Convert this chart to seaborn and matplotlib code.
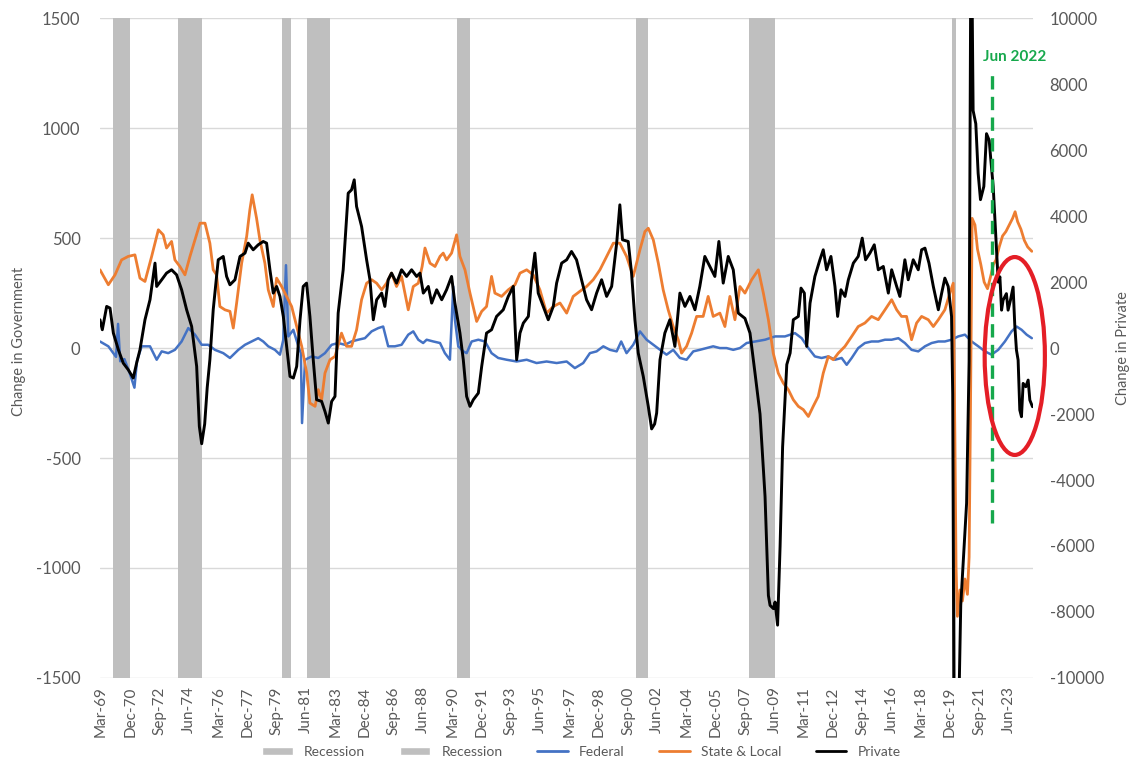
import matplotlib
matplotlib.use('Agg')
import matplotlib.pyplot as plt
from matplotlib.patches import Ellipse, Patch
from matplotlib.lines import Line2D
import pandas as pd
import seaborn as sns

sns.set_style('white')
plt.rcParams['font.family'] = ['Lato', 'DejaVu Sans']
plt.rcParams['axes.unicode_minus'] = False

# NBER recessions, first and last month
recession_start = ['1969-12', '1973-11', '1980-01', '1981-07', '1990-07', '2001-03', '2007-12', '2020-02']
recession_end = ['1970-11', '1975-03', '1980-07', '1982-11', '1991-03', '2001-11', '2009-06', '2020-04']

tick_labels = ['Mar-69', 'Dec-70', 'Sep-72', 'Jun-74', 'Mar-76', 'Dec-77', 'Sep-79', 'Jun-81',
               'Mar-83', 'Dec-84', 'Sep-86', 'Jun-88', 'Mar-90', 'Dec-91', 'Sep-93', 'Jun-95',
               'Mar-97', 'Dec-98', 'Sep-00', 'Jun-02', 'Mar-04', 'Dec-05', 'Sep-07', 'Jun-09',
               'Mar-11', 'Dec-12', 'Sep-14', 'Jun-16', 'Mar-18', 'Dec-19', 'Sep-21', 'Jun-23']

# State & Local (left axis)
sl_year = [1969.14, 1969.64, 1970.04, 1970.43, 1970.83, 1971.23, 1971.53, 1971.83, 1972.23, 1972.63,
           1972.92, 1973.12, 1973.42, 1973.62, 1973.92, 1974.22, 1974.52, 1974.82, 1975.12, 1975.42,
           1975.71, 1975.91, 1976.11, 1976.31, 1976.61, 1976.91, 1977.11, 1977.31, 1977.61, 1977.91,
           1978.10, 1978.24, 1978.50, 1978.70, 1979.00, 1979.20, 1979.50, 1979.70, 1980.00, 1980.30,
           1980.60, 1980.90, 1981.20, 1981.50, 1981.69, 1982.00, 1982.19, 1982.39, 1982.59, 1982.89,
           1983.19, 1983.58, 1983.88, 1984.18, 1984.48, 1984.78, 1985.08, 1985.38, 1985.68, 1985.98,
           1986.27, 1986.57, 1986.87, 1987.17, 1987.57, 1987.87, 1988.17, 1988.40, 1988.57, 1988.87,
           1989.17, 1989.47, 1989.66, 1989.86, 1990.16, 1990.46, 1990.66, 1990.96, 1991.26, 1991.66,
           1991.96, 1992.25, 1992.55, 1992.75, 1993.15, 1993.55, 1993.95, 1994.25, 1994.65, 1995.04,
           1995.44, 1995.84, 1996.24, 1996.64, 1997.04, 1997.43, 1997.83, 1998.23, 1998.63, 1999.03,
           1999.43, 1999.83, 2000.22, 2000.62, 2001.02, 2001.42, 2001.72, 2001.92, 2002.22, 2002.52,
           2002.81, 2003.11, 2003.41, 2003.71, 2003.91, 2004.21, 2004.51, 2004.81, 2005.20, 2005.50,
           2005.80, 2006.20, 2006.50, 2006.80, 2007.10, 2007.40, 2007.70, 2008.10, 2008.50, 2008.80,
           2009.10, 2009.39, 2009.69, 2009.99, 2010.29, 2010.59, 2010.89, 2011.19, 2011.49, 2011.78,
           2012.08, 2012.38, 2012.68, 2012.98, 2013.28, 2013.68, 2014.08, 2014.47, 2014.87, 2015.27,
           2015.67, 2016.07, 2016.47, 2016.77, 2017.06, 2017.36, 2017.66, 2017.96, 2018.26, 2018.66,
           2018.96, 2019.26, 2019.65, 2019.95, 2020.15, 2020.25, 2020.32, 2020.40, 2020.55, 2020.70,
           2020.85, 2021.00, 2021.10, 2021.18, 2021.28, 2021.45, 2021.60, 2021.80, 2022.00, 2022.20,
           2022.40, 2022.55, 2022.70, 2022.90, 2023.10, 2023.30, 2023.50, 2023.70, 2023.85, 2024.00,
           2024.20, 2024.40, 2024.60, 2024.85]
sl_chg = [356, 288, 333, 401, 417, 424, 318, 303, 417, 538,
          515, 455, 485, 401, 371, 333, 417, 492, 568, 568,
          477, 356, 333, 189, 174, 167, 91, 205, 386, 508,
          629, 697, 591, 492, 386, 265, 189, 318, 280, 235,
          189, 98, 8, -114, -250, -265, -189, -235, -114, -53,
          -38, 68, 8, 8, 83, 220, 295, 311, 295, 265,
          295, 341, 280, 326, 174, 280, 295, 371, 455, 386,
          371, 417, 432, 401, 432, 515, 417, 356, 250, 121,
          167, 189, 326, 250, 235, 265, 288, 341, 356, 333,
          265, 159, 189, 205, 159, 235, 258, 280, 311, 356,
          417, 477, 477, 417, 326, 447, 530, 545, 492, 386,
          265, 174, 98, 38, -23, 8, 68, 144, 144, 235,
          144, 159, 98, 235, 129, 280, 250, 311, 356, 250,
          129, -23, -114, -159, -189, -235, -265, -280, -311, -265,
          -220, -114, -38, -53, -23, 8, 53, 98, 114, 144,
          129, 174, 220, 174, 144, 144, 38, 114, 144, 129,
          98, 129, 174, 250, 295, -400, -1000, -1220, -1100, -1150,
          -1050, -1120, -950, -300, 590, 560, 450, 380, 300, 270,
          330, 380, 400, 460, 510, 530, 560, 590, 620, 575,
          540, 490, 460, 440]

# Federal (left axis)
fed_year = [1969.14, 1969.64, 1969.94, 1970.10, 1970.22, 1970.35, 1970.60, 1970.90, 1971.20, 1971.35,
            1971.63, 1972.13, 1972.53, 1972.83, 1973.22, 1973.62, 1974.02, 1974.42, 1974.82, 1975.22,
            1975.61, 1976.01, 1976.51, 1976.91, 1977.41, 1977.81, 1978.20, 1978.60, 1978.90, 1979.20,
            1979.60, 1979.90, 1980.10, 1980.26, 1980.40, 1980.70, 1981.00, 1981.15, 1981.22, 1981.40,
            1981.80, 1982.19, 1982.59, 1982.99, 1983.38, 1983.78, 1984.18, 1984.58, 1984.98, 1985.38,
            1985.78, 1986.07, 1986.37, 1986.77, 1987.17, 1987.57, 1987.87, 1988.17, 1988.46, 1988.67,
            1989.07, 1989.47, 1989.76, 1990.06, 1990.26, 1990.36, 1990.56, 1990.86, 1991.06, 1991.36,
            1991.76, 1992.16, 1992.55, 1992.95, 1993.45, 1994.05, 1994.65, 1995.24, 1995.84, 1996.44,
            1997.04, 1997.53, 1998.03, 1998.43, 1998.83, 1999.23, 1999.63, 2000.03, 2000.30, 2000.62,
            2001.02, 2001.42, 2001.82, 2002.22, 2002.62, 2003.01, 2003.41, 2003.81, 2004.21, 2004.61,
            2005.00, 2005.40, 2005.80, 2006.20, 2006.60, 2007.00, 2007.40, 2007.80, 2008.30, 2008.90,
            2009.50, 2010.09, 2010.69, 2011.09, 2011.49, 2011.88, 2012.28, 2012.68, 2013.08, 2013.48,
            2013.78, 2014.08, 2014.47, 2014.87, 2015.27, 2015.67, 2016.07, 2016.47, 2016.87, 2017.26,
            2017.66, 2018.06, 2018.46, 2018.86, 2019.26, 2019.65, 2020.05, 2020.45, 2020.85, 2021.25,
            2021.65, 2022.05, 2022.44, 2022.84, 2023.24, 2023.64, 2023.94, 2024.24, 2024.54, 2024.85]
fed_chg = [30, 8, -23, -40, 110, -60, -50, -110, -180, -60,
           8, 8, -53, -15, -23, -8, 30, 91, 61, 15,
           15, -8, -23, -45, -8, 15, 30, 45, 30, 8,
           -8, -30, 38, 377, 53, 83, 8, -23, -341, -53,
           -38, -45, -23, 15, 23, 15, 30, 38, 45, 76,
           91, 98, 8, 8, 15, 61, 76, 38, 23, 38,
           30, 23, -23, -53, 280, 129, 8, -15, -23, 30,
           38, 30, -23, -45, -53, -61, -53, -68, -61, -68,
           -61, -91, -68, -23, -15, 8, -8, -15, 30, -23,
           15, 76, 38, 15, -8, -30, -8, -45, -53, -15,
           -8, 0, 8, 0, 0, -8, 0, 23, 30, 38,
           53, 53, 68, 45, 0, -38, -45, -38, -53, -45,
           -76, -45, 0, 23, 30, 30, 38, 38, 45, 23,
           -8, -15, 8, 23, 30, 30, 38, 53, 61, 30,
           8, -15, -30, -8, 30, 76, 98, 83, 61, 45]

# Private (right axis)
priv_year = [1969.14, 1969.28, 1969.54, 1969.74, 1969.94, 1970.24, 1970.53, 1970.83, 1971.13, 1971.33,
             1971.53, 1971.83, 1972.13, 1972.43, 1972.53, 1972.83, 1973.12, 1973.42, 1973.72, 1974.02,
             1974.32, 1974.62, 1974.92, 1975.08, 1975.22, 1975.40, 1975.55, 1975.71, 1975.91, 1976.21,
             1976.51, 1976.71, 1976.91, 1977.21, 1977.51, 1977.81, 1978.00, 1978.30, 1978.60, 1978.90,
             1979.10, 1979.30, 1979.50, 1979.70, 1979.90, 1980.10, 1980.30, 1980.50, 1980.70, 1980.90,
             1981.10, 1981.29, 1981.49, 1981.69, 1981.89, 1982.09, 1982.39, 1982.59, 1982.79, 1982.99,
             1983.19, 1983.38, 1983.68, 1983.98, 1984.18, 1984.34, 1984.48, 1984.78, 1985.08, 1985.28,
             1985.48, 1985.68, 1985.98, 1986.17, 1986.37, 1986.57, 1986.87, 1987.17, 1987.47, 1987.77,
             1988.07, 1988.27, 1988.47, 1988.77, 1988.97, 1989.27, 1989.57, 1989.86, 1990.16, 1990.36,
             1990.66, 1990.86, 1991.06, 1991.26, 1991.46, 1991.76, 1991.96, 1992.25, 1992.55, 1992.85,
             1993.25, 1993.55, 1993.85, 1994.05, 1994.25, 1994.45, 1994.75, 1994.94, 1995.14, 1995.34,
             1995.64, 1995.94, 1996.24, 1996.44, 1996.74, 1997.04, 1997.33, 1997.63, 1997.93, 1998.23,
             1998.53, 1998.83, 1999.13, 1999.43, 1999.73, 2000.03, 2000.22, 2000.38, 2000.72, 2000.92,
             2001.12, 2001.32, 2001.62, 2001.92, 2002.12, 2002.30, 2002.42, 2002.62, 2002.91, 2003.21,
             2003.51, 2003.81, 2004.11, 2004.41, 2004.71, 2005.00, 2005.30, 2005.60, 2005.90, 2006.14,
             2006.40, 2006.70, 2007.00, 2007.30, 2007.70, 2008.00, 2008.30, 2008.60, 2008.90, 2009.10,
             2009.20, 2009.40, 2009.50, 2009.65, 2009.80, 2009.95, 2010.20, 2010.40, 2010.59, 2010.89,
             2011.05, 2011.25, 2011.39, 2011.59, 2011.88, 2012.18, 2012.38, 2012.58, 2012.84, 2013.08,
             2013.24, 2013.44, 2013.68, 2013.88, 2014.18, 2014.47, 2014.71, 2014.91, 2015.17, 2015.43,
             2015.67, 2015.97, 2016.27, 2016.47, 2016.77, 2016.96, 2017.26, 2017.46, 2017.76, 2018.06,
             2018.26, 2018.46, 2018.70, 2018.96, 2019.26, 2019.46, 2019.65, 2019.85, 2020.05, 2020.12,
             2020.20, 2020.30, 2020.40, 2020.50, 2020.60, 2020.95, 2021.10, 2021.22, 2021.34, 2021.50,
             2021.64, 2021.78, 2021.98, 2022.14, 2022.30, 2022.40, 2022.54, 2022.74, 2022.84, 2022.94,
             2023.04, 2023.13, 2023.33, 2023.43, 2023.57, 2023.73, 2023.83, 2023.93, 2024.03, 2024.13,
             2024.23, 2024.33, 2024.49, 2024.63, 2024.73, 2024.89]
priv_chg = [859, 556, 1263, 1212, 455, -51, -455, -657, -909, -455,
            -51, 859, 1465, 2576, 1869, 2071, 2273, 2374, 2222, 1768,
            1162, 657, -556, -2374, -2900, -2300, -1200, -354, 1162, 2677,
            2778, 2172, 1919, 2071, 2778, 2879, 3182, 2980, 3131, 3232,
            3182, 2374, 1667, 1869, 1566, 960, 51, -859, -909, -556,
            859, 1869, 1970, 960, -354, -1566, -1616, -1919, -2273, -1616,
            -1465, 1061, 2374, 4697, 4798, 5101, 4293, 3687, 2677, 2071,
            859, 1465, 1667, 1263, 2071, 2273, 1970, 2374, 2172, 2374,
            2172, 2273, 1667, 1869, 1364, 1768, 1465, 1768, 2172, 1364,
            455, -354, -1465, -1768, -1566, -1364, -556, 455, 556, 960,
            1162, 1566, 1869, -354, 455, 758, 960, 2071, 2879, 1667,
            1263, 859, 1263, 1970, 2576, 2677, 2929, 2677, 2071, 1465,
            1162, 1667, 2071, 1566, 1869, 3182, 4343, 3283, 3232, 2273,
            859, -152, -859, -1768, -2450, -2300, -1970, -354, 455, 859,
            51, 1667, 1263, 1566, 1162, 1869, 2778, 2475, 2172, 3232,
            1970, 2778, 2374, 1061, 900, 455, -758, -2000, -4500, -7500,
            -7800, -7900, -7700, -8400, -6000, -3000, -500, -150, 859, 960,
            1818, 1667, 51, 1364, 2172, 2677, 2980, 2374, 2778, 1869,
            960, 1768, 1566, 2071, 2576, 2778, 3333, 2677, 2879, 3131,
            2374, 2475, 1667, 2374, 1869, 1566, 2677, 2071, 2677, 2374,
            2980, 3030, 2576, 1869, 1162, 1667, 2121, 1869, 960, -1400,
            -12000, -19000, -15000, -10500, -7800, -4700, -400, 14000, 7200, 6800,
            5300, 4500, 4900, 6500, 6300, 5700, 4900, 3000, 2000, 2160,
            1150, 1450, 1650, 1150, 1450, 1850, 700, -60, -364, -1878,
            -2081, -1071, -1172, -970, -1576, -1778]


def month_to_year(s):
    d = pd.Timestamp(s)
    return d.year + (d.month - 1) / 12


grey_txt = '#595959'
c_fed = '#4472C4'
c_sl = '#ED7D31'
c_green = '#16a84c'

fig, ax1 = plt.subplots(figsize=(11.4, 7.6), dpi=100)
fig.subplots_adjust(left=0.0877, right=0.906, top=0.976, bottom=0.108)
ax2 = ax1.twinx()

# recession shading
for s, e in zip(recession_start, recession_end):
    ax1.axvspan(month_to_year(s), month_to_year(e) + 1 / 12, color='#bfbfbf', lw=0, zorder=1)

sns.lineplot(x=fed_year, y=fed_chg, ax=ax1, color=c_fed, linewidth=1.8, zorder=3)
sns.lineplot(x=sl_year, y=sl_chg, ax=ax1, color=c_sl, linewidth=2.0, zorder=3)
sns.lineplot(x=priv_year, y=priv_chg, ax=ax2, color='black', linewidth=2.1, zorder=3)

ax1.set_xlim(1969.14, 2024.91)
ax1.set_ylim(-1500, 1500)
ax2.set_ylim(-10000, 10000)
ax1.set_yticks(range(-1500, 1501, 500))
ax2.set_yticks(range(-10000, 10001, 2000))

tick_pos = []
for lbl in tick_labels:
    d = pd.to_datetime(lbl, format='%b-%y')
    tick_pos.append(d.year + (d.month - 1) / 12 + 1 / 24)
ax1.set_xticks(tick_pos)
ax1.set_xticklabels(tick_labels, rotation=90)

ax1.grid(axis='y', color='#d9d9d9', linewidth=1)
ax1.grid(axis='x', visible=False)
ax2.grid(False)
ax1.set_axisbelow(True)
for ax in (ax1, ax2):
    for sp in ax.spines.values():
        sp.set_visible(False)
ax1.tick_params(axis='y', length=0, pad=14, labelsize=12, labelcolor=grey_txt)
ax1.tick_params(axis='x', length=0, pad=6, labelsize=11, labelcolor=grey_txt)
ax2.tick_params(axis='y', length=0, pad=12, labelsize=12, labelcolor=grey_txt)

ax1.set_xlabel('')
ax1.set_ylabel('Change in Government', fontsize=10.5, color=grey_txt)
ax2.set_ylabel('Change in Private', fontsize=10.5, color=grey_txt, rotation=90)
ax1.yaxis.set_label_coords(-0.079, 0.51)
ax2.yaxis.set_label_coords(1.089, 0.5)

# Jun 2022 marker and highlight
jun22 = month_to_year('2022-06') + 1 / 24
ax2.vlines(jun22, -795, 1255, transform=ax1.transData, colors=c_green, linewidth=2.4,
           linestyles=(0, (4, 2.2)), zorder=6)
ax2.text(jun22 - 0.55, 1323, 'Jun 2022', transform=ax1.transData, color=c_green,
         fontsize=11, fontweight='bold', ha='left', va='center', zorder=6)
ax2.add_patch(Ellipse((2023.83, -36), 3.6, 900, transform=ax1.transData, fill=False,
                      edgecolor='#e41e26', linewidth=3, zorder=7, clip_on=False))

handles = [Patch(facecolor='#bfbfbf'), Patch(facecolor='#bfbfbf'),
           Line2D([], [], color=c_fed, lw=2), Line2D([], [], color=c_sl, lw=2),
           Line2D([], [], color='black', lw=2)]
labels = ['Recession', 'Recession', 'Federal', 'State & Local', 'Private']
fig.legend(handles, labels, loc='lower center', bbox_to_anchor=(0.51, 0.003), ncol=5,
           frameon=False, fontsize=10, labelcolor=grey_txt, borderpad=0, borderaxespad=0,
           handlelength=2.2, handleheight=0.5, columnspacing=2.5)

fig.savefig('out.png', dpi=100)
